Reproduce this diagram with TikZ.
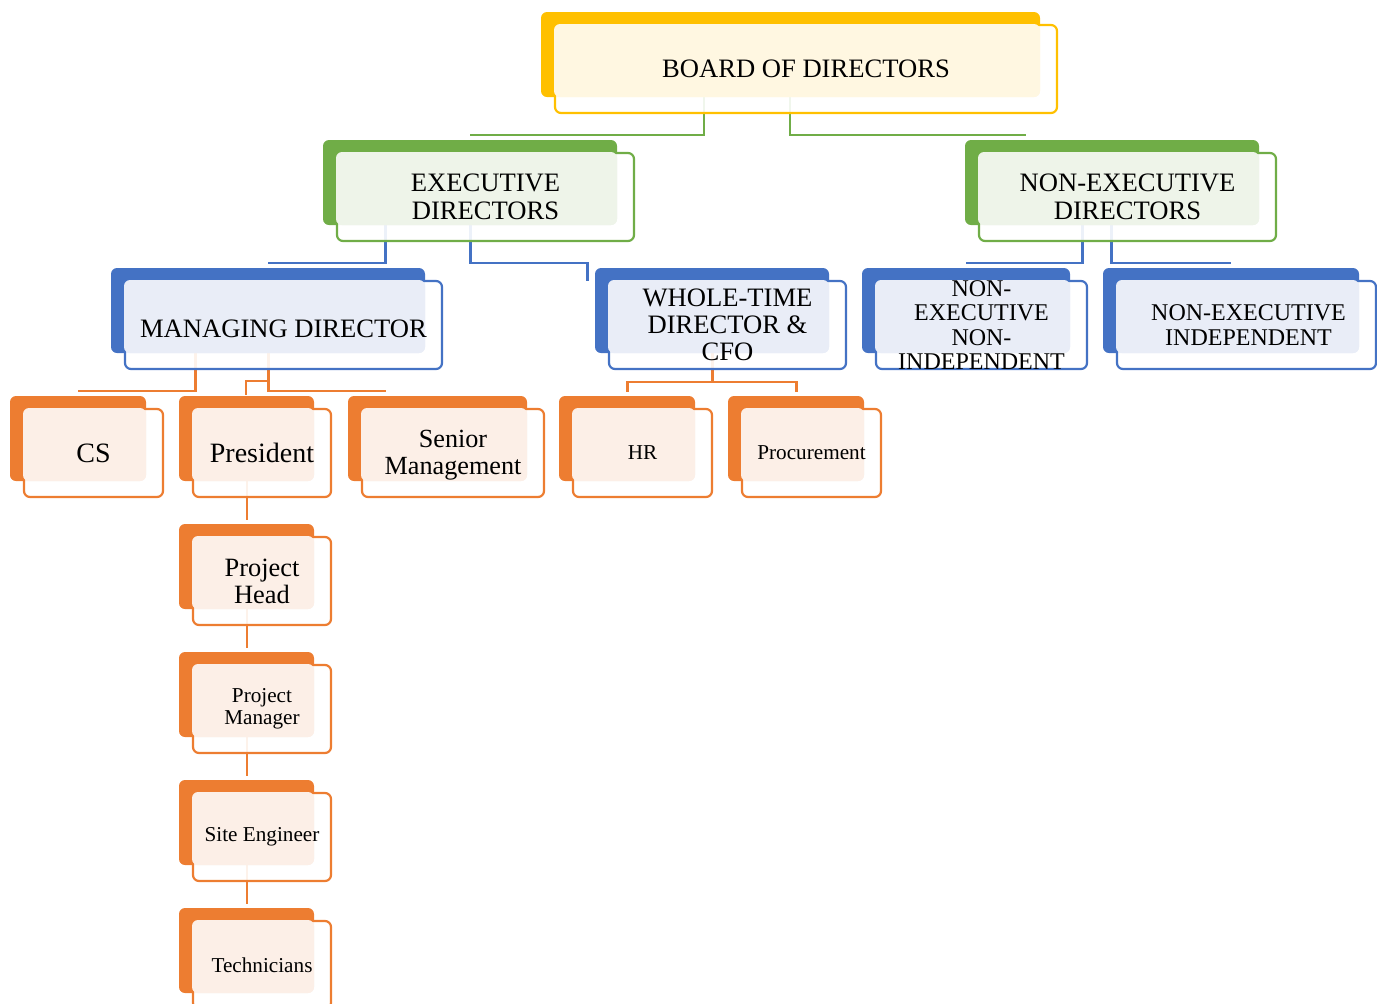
\documentclass[tikz,border=0pt]{standalone}
\usepackage{fontspec}
\setmainfont{Liberation Serif}
\usetikzlibrary{calc}

\definecolor{gold}{HTML}{FFC000}
\definecolor{goldtint}{HTML}{FFF7E1}
\definecolor{leaf}{HTML}{70AD47}
\definecolor{leaftint}{HTML}{EEF4E9}
\definecolor{royal}{HTML}{4472C4}
\definecolor{royaltint}{HTML}{E9EDF7}
\definecolor{amber}{HTML}{ED7D31}
\definecolor{ambertint}{HTML}{FCEFE7}

\pgfdeclarelayer{links}
\pgfdeclarelayer{background}
\pgfsetlayers{links,background,main}

\tikzset{
  unit/.style={inner sep=0pt, outer sep=0pt, minimum height=44pt},
  caption/.style={align=center, inner sep=0pt, font=\fontsize{13.3}{14}\selectfont},
  bigcap/.style={caption, font=\fontsize{14}{14.5}\selectfont},
  midcap/.style={caption, font=\fontsize{12}{12.3}\selectfont},
  smallcap/.style={caption, font=\fontsize{10.6}{11}\selectfont},
  link/.style={line width=1.1pt}
}

% solid block behind, outlined block in front, tint where they meet
\newcommand{\orgbox}[3]{%
  \begin{pgfonlayer}{background}
    \fill[#2, rounded corners=3pt] ($(#1.north west)+(-14,-13)$) rectangle ($(#1.south east)+(-17,-16)$);
    \filldraw[fill=white, fill opacity=0.9, draw=#2, line width=1.1pt, rounded corners=3pt] (#1.north west) rectangle (#1.south east);
    \fill[#3, rounded corners=3pt] ($(#1.north west)+(-1,-1)$) rectangle ($(#1.south east)+(-17,-16)$);
  \end{pgfonlayer}}

\begin{document}
\begin{tikzpicture}[x=0.5pt, y=-0.5pt]
  \useasboundingbox (0,0) rectangle (1377,1003);

  % board
  \node[unit, minimum width=251pt, label={[caption]center:BOARD OF DIRECTORS}] (bod) at (806,69) {};
  \orgbox{bod}{gold}{goldtint}

  % directors
  \node[unit, minimum width=148.5pt, label={[caption]center:{EXECUTIVE\\DIRECTORS}}] (exec) at (485.5,197) {};
  \orgbox{exec}{leaf}{leaftint}
  \node[unit, minimum width=148.5pt, label={[caption]center:{NON-EXECUTIVE\\DIRECTORS}}] (nonexec) at (1127.5,197) {};
  \orgbox{nonexec}{leaf}{leaftint}

  % third row
  \node[unit, minimum width=158.5pt, label={[caption, yshift=-2pt]center:MANAGING DIRECTOR}] (md) at (283.5,325) {};
  \orgbox{md}{royal}{royaltint}
  \node[unit, minimum width=118.5pt, label={[caption, font=\fontsize{13.3}{13.6}\selectfont]center:{WHOLE-TIME\\DIRECTOR \&\\CFO}}] (wtd) at (727.5,325) {};
  \orgbox{wtd}{royal}{royaltint}
  \node[unit, minimum width=105.5pt, label={[midcap]center:{NON-\\EXECUTIVE\\NON-\\INDEPENDENT}}] (neni) at (981.5,325) {};
  \orgbox{neni}{royal}{royaltint}
  \node[unit, minimum width=129.5pt, label={[midcap, xshift=1pt]center:{NON-EXECUTIVE\\INDEPENDENT}}] (nei) at (1246.5,325) {};
  \orgbox{nei}{royal}{royaltint}

  % fourth row
  \node[unit, minimum width=69.5pt, label={[bigcap]center:CS}] (cs) at (93.5,453) {};
  \orgbox{cs}{amber}{ambertint}
  \node[unit, minimum width=69pt, label={[bigcap]center:President}] (pres) at (262,453) {};
  \orgbox{pres}{amber}{ambertint}
  \node[unit, minimum width=91pt, label={[caption, yshift=-1pt, font=\fontsize{13.1}{13.5}\selectfont]center:{Senior\\Management}}] (senior) at (453,453) {};
  \orgbox{senior}{amber}{ambertint}
  \node[unit, minimum width=69.5pt, label={[smallcap]center:HR}] (hr) at (642.5,453) {};
  \orgbox{hr}{amber}{ambertint}
  \node[unit, minimum width=69.5pt, label={[smallcap]center:Procurement}] (proc) at (811.5,453) {};
  \orgbox{proc}{amber}{ambertint}

  % project column
  \node[unit, minimum width=69pt, label={[caption, font=\fontsize{13.2}{13.5}\selectfont]center:{Project\\Head}}] (phead) at (262,581) {};
  \orgbox{phead}{amber}{ambertint}
  \node[unit, minimum width=69pt, label={[smallcap]center:{Project\\Manager}}] (pman) at (262,709) {};
  \orgbox{pman}{amber}{ambertint}
  \node[unit, minimum width=69pt, label={[smallcap]center:Site Engineer}] (site) at (262,837) {};
  \orgbox{site}{amber}{ambertint}
  \node[unit, minimum width=69pt, label={[smallcap]center:Technicians}] (tech) at (262,965) {};
  \orgbox{tech}{amber}{ambertint}

  % connectors
  \begin{pgfonlayer}{links}
    \draw[link, leaf] ($(bod.south)+(-102,-16)$) |- ($(exec.north)+(-16,-18)$);
    \draw[link, leaf] ($(bod.south)+(-16,-16)$) |- ($(nonexec.north)+(-102,-18)$);
    \draw[link, royal] ($(exec.south)+(-100,-16)$) |- ($(md.north)+(-16,-18)$);
    \draw[link, royal] ($(exec.south)+(-15,-16)$) |- ($(wtd.north)+(-140,-18)$) -- ($(wtd.north)+(-140,0)$);
    \draw[link, royal] ($(nonexec.south)+(-45,-16)$) |- ($(neni.north)+(-16,-18)$);
    \draw[link, royal] ($(nonexec.south)+(-16,-16)$) |- ($(nei.north)+(-16,-18)$);
    \draw[link, amber] ($(md.south)+(-88,-16)$) |- ($(cs.north)+(-16,-18)$);
    \draw[link, amber] ($(md.south)+(-15,-16)$) |- ($(senior.north)+(-67,-18)$);
    \draw[link, amber] ($(pres.north)+(6,-28)$) -| ($(pres.north)+(-16,-14)$);
    \draw[link, amber] ($(wtd.south)+(-15,-16)$) |- ($(hr.north)+(-15,-27)$) -- ($(hr.north)+(-15,-17)$);
    \draw[link, amber] ($(wtd.south)+(-15,-16)$) |- ($(proc.north)+(-15,-27)$) -- ($(proc.north)+(-15,-17)$);
    \foreach \a/\b in {pres/phead, phead/pman, pman/site, site/tech}
      \draw[link, amber] ($(\a.south)+(-15,-16)$) -- ($(\b.north)+(-15,-17)$);
  \end{pgfonlayer}
\end{tikzpicture}
\end{document}
